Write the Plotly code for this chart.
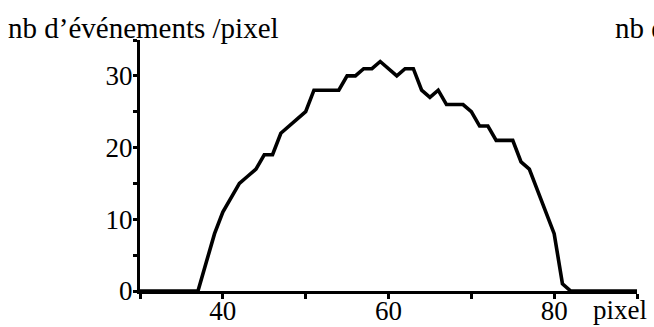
import plotly.graph_objects as go

pixels = list(range(30, 91))
counts = [0, 0, 0, 0, 0, 0, 0, 0,          # 30-37
          4, 8, 11, 13, 15, 16, 17, 19, 19, # 38-46
          22, 23, 24, 25, 28, 28, 28, 28,   # 47-54
          30, 30, 31, 31, 32, 31, 30, 31, 31, # 55-63
          28, 27, 28, 26, 26, 26, 25, 23, 23, # 64-72
          21, 21, 21, 18, 17, 14, 11, 8, 1,  # 73-81
          0, 0, 0, 0, 0, 0, 0, 0, 0]         # 82-90

x_tickvals = [30, 40, 50, 60, 70, 80, 90]
x_ticktext = ["", "40", "", "60", "", "80", ""]
y_tickvals = [0, 5, 10, 15, 20, 25, 30, 35]
y_ticktext = ["0", "", "10", "", "20", "", "30", ""]

y_title = "nb d’événements /pixel"
x_title = "pixel"

FONT = "Liberation Serif"

fig = go.Figure()
fig.add_trace(go.Scatter(x=pixels, y=counts, mode="lines",
                         line=dict(color="black", width=3.6),
                         hoverinfo="skip", showlegend=False))

L, R, T, B = 140, 17, 40, 36
W, H = 654, 327
pw, ph = W - L - R, H - T - B

def px2paper_x(px):
    return (px - L) / pw

def py2paper_y(py):
    return (H - B - py) / ph

fig.update_layout(
    width=W, height=H,
    margin=dict(l=L, r=R, t=T, b=B, pad=0, autoexpand=False),
    paper_bgcolor="white", plot_bgcolor="white",
    font=dict(family=FONT, color="black", size=27),
    xaxis=dict(range=[30, 90], tickvals=x_tickvals, ticktext=x_ticktext,
               automargin=False, ticklabelstandoff=-11,
               showgrid=False, zeroline=False, showline=True,
               linecolor="black", linewidth=3, ticks="outside",
               ticklen=5, tickwidth=3, tickcolor="black",
               tickfont=dict(family=FONT, size=27, color="black")),
    yaxis=dict(range=[0, 35], tickvals=y_tickvals, ticktext=y_ticktext,
               automargin=False, ticklabelstandoff=-5,
               showgrid=False, zeroline=False, showline=True,
               linecolor="black", linewidth=3, ticks="outside",
               ticklen=4, tickwidth=3, tickcolor="black",
               tickfont=dict(family=FONT, size=27, color="black")),
    annotations=[
        dict(text=y_title, xref="paper", yref="paper",
             x=px2paper_x(6), y=py2paper_y(46), xanchor="left", yanchor="bottom",
             showarrow=False, font=dict(family=FONT, size=29, color="black")),
        dict(text=y_title, xref="paper", yref="paper",
             x=px2paper_x(613), y=py2paper_y(46), xanchor="left", yanchor="bottom",
             showarrow=False, font=dict(family=FONT, size=29, color="black")),
        dict(text=x_title, xref="paper", yref="paper",
             x=px2paper_x(591), y=py2paper_y(293), xanchor="left", yanchor="top",
             showarrow=False, font=dict(family=FONT, size=27, color="black")),
    ],
)

fig.write_html("out.html", config={"displayModeBar": False},
               post_script="document.body.style.margin='0';document.body.style.overflow='hidden';")
